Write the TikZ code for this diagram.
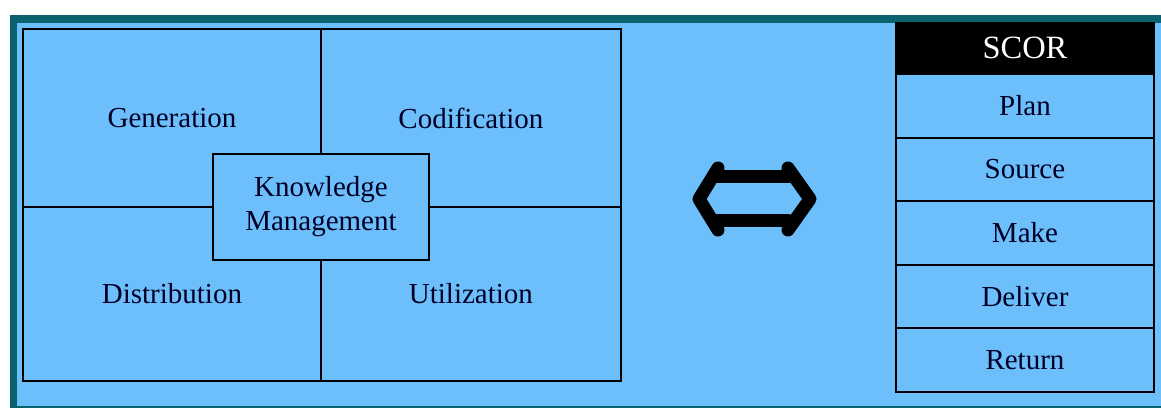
\documentclass[tikz,border=0pt]{standalone}
\usepackage{fontspec}
\setmainfont{Liberation Serif}
\usetikzlibrary{positioning}
\definecolor{skyfill}{RGB}{108,191,250}
\definecolor{frameteal}{RGB}{10,98,110}

\begin{document}
\begin{tikzpicture}[
        x=0.02cm, y=-0.02cm,
        every node/.style={font=\fontsize{16.5}{19.4}\selectfont, text=black!85!blue, outer sep=0pt},
        quad/.style={draw, line width=1.1pt, minimum width=5.96cm, minimum height=3.56cm, inner sep=0pt},
        kmbox/.style={draw, line width=1.1pt, fill=skyfill, minimum width=4.32cm, minimum height=2.12cm, align=center},
        scorrow/.style={draw, line width=1.1pt, minimum width=5.16cm, minimum height=1.272cm, inner sep=0pt},
        swap/.style={line width=0.26cm, line cap=round, line join=round},
    ]
        \useasboundingbox (0,0) rectangle (1161,408);
        \fill[white] (0,0) rectangle (1161,408);
        \fill[frameteal] (10,15) rectangle (1161,408);
        \fill[skyfill] (17,23) rectangle (1161,406);

        % knowledge management grid
        \node[quad, anchor=north west] (gen) at (23,29) {Generation};
        \node[quad, minimum width=6cm, right=0pt of gen] (cod) {Codification};
        \node[quad, minimum height=3.48cm, below=0pt of gen] (dist) {Distribution};
        \node[quad, minimum width=6cm, minimum height=3.48cm, right=0pt of dist] (util) {Utilization};
        \node[kmbox] (km) at (gen.south east) {Knowledge\\Management};

        % double arrow
        \coordinate (ltip) at (699,199);
        \coordinate (rtip) at (810,199);
        \draw[swap] (718,168) -- (ltip) -- (718,230);
        \draw[swap] (788,168) -- (rtip) -- (788,230);
        \draw[swap] (718,177) -- (788,177);
        \draw[swap] (718,221) -- (788,221);

        % SCOR column
        \node[scorrow, fill=black, text=white, minimum height=0.98cm, anchor=north west,
              font=\fontsize{18.5}{22}\selectfont] (scor) at (896,23) {SCOR};
        \node[scorrow, below=0.04cm of scor] (plan) {Plan};
        \node[scorrow, below=0pt of plan] (source) {Source};
        \node[scorrow, below=0pt of source] (make) {Make};
        \node[scorrow, below=0pt of make] (deliver) {Deliver};
        \node[scorrow, below=0pt of deliver] (return) {Return};
    \end{tikzpicture}
\end{document}
